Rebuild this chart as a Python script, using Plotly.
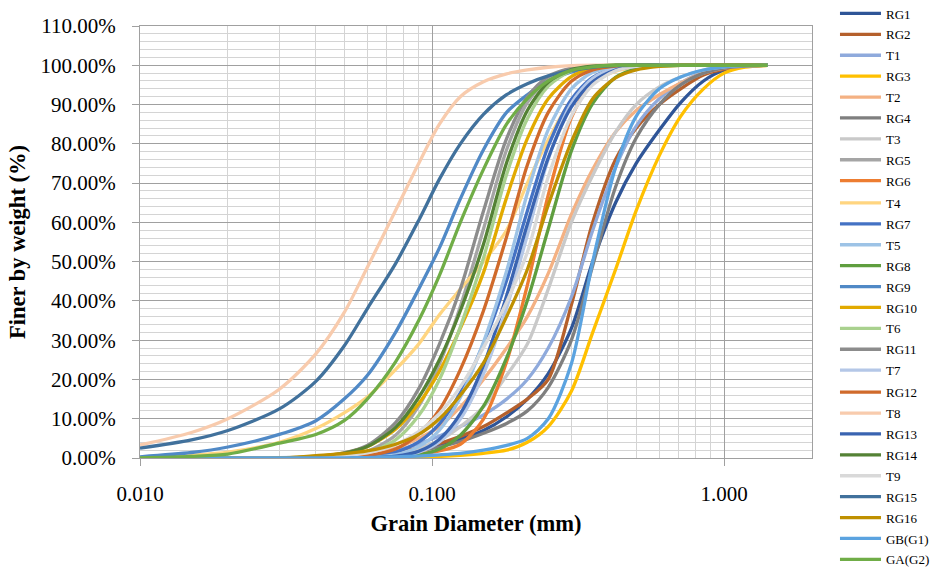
import plotly.graph_objects as go

# Grain diameters (mm) shared by all series
diam = [0.010, 0.015, 0.020, 0.030, 0.040, 0.050, 0.060, 0.075, 0.090, 0.106, 0.125, 0.150, 0.180,
        0.212, 0.250, 0.300, 0.355, 0.425, 0.500, 0.600, 0.710, 0.850, 1.000, 1.180, 1.410]

names = ["RG1", "RG2", "T1", "RG3", "T2", "RG4", "T3", "RG5", "RG6", "T4", "RG7", "T5", "RG8",
         "RG9", "RG10", "T6", "RG11", "T7", "RG12", "T8", "RG13", "RG14", "T9", "RG15", "RG16",
         "GB(G1)", "GA(G2)"]

RG1 = [0, 0, 0, 0, 0.15, 0.3, 0.5, 1, 2, 3, 4.8, 7, 10.5, 15, 21.5, 33, 50, 65, 75, 83.5, 90.5, 96, 98.8, 99.7, 100]
RG2 = [0, 0, 0, 0, 0.2, 0.4, 0.7, 1.5, 2.5, 3.7, 5.5, 8, 11.5, 15, 20, 39, 60, 76, 84, 90, 94, 97.5, 99, 99.7, 100]
T1 = [0, 0, 0, 0.1, 0.3, 0.6, 1, 2, 3.6, 5.6, 8, 11, 15, 20, 28, 41, 58, 74, 84.5, 91.5, 95.5, 98.3, 99.4, 99.9, 100]
RG3 = [0, 0, 0, 0, 0, 0, 0, 0.1, 0.2, 0.4, 0.7, 1.2, 2, 4, 8, 17, 32, 48, 63, 77, 87, 94, 98, 99.5, 100]
T2 = [0, 0, 0, 0, 0.2, 0.5, 1, 2.5, 5, 8, 13, 20, 28, 36, 47, 62, 73.5, 83, 88.5, 92.5, 95.5, 98, 99.3, 99.8, 100]
RG4 = [0, 0, 0, 0, 0.1, 0.3, 0.5, 1, 1.8, 2.8, 4.2, 6.3, 8.8, 12, 18, 30, 49, 69, 81.5, 90, 95, 98, 99.3, 99.8, 100]
T3 = [0, 0, 0, 0, 0.05, 0.15, 0.3, 1, 2.5, 4.5, 8, 13, 21, 29, 43, 60, 72, 83, 90, 94.5, 97, 98.8, 99.6, 100, 100]
RG5 = [0, 0, 0, 0, 0.1, 0.6, 1.7, 5.8, 13.2, 24, 38.6, 58.3, 78.5, 90.5, 96.6, 99.2, 99.8, 100, 100, 100, 100, 100, 100, 100, 100]
RG6 = [0, 0, 0, 0, 0.05, 0.12, 0.2, 0.5, 1, 1.8, 3.5, 9.9, 24.5, 44, 67, 86.7, 95.8, 99.2, 99.9, 100, 100, 100, 100, 100, 100]
T4 = [0, 0.7, 1.5, 4, 7.5, 11.5, 15.5, 22.5, 29, 36.5, 43, 50, 58, 70, 81, 91, 95.5, 98.5, 99.5, 100, 100, 100, 100, 100, 100]
RG7 = [0, 0, 0, 0, 0.05, 0.2, 0.4, 1.5, 4.1, 8.7, 16.6, 29.1, 45.2, 62.9, 79.4, 91.3, 96.9, 99.2, 99.8, 100, 100, 100, 100, 100, 100]
T5 = [0, 0, 0, 0, 0.02, 0.1, 0.2, 0.8, 2.9, 7.1, 15.4, 29.5, 47.6, 67.4, 83.6, 94, 98.2, 99.6, 100, 100, 100, 100, 100, 100, 100]
RG8 = [0, 0, 0, 0, 0, 0.05, 0.1, 0.3, 0.8, 2.3, 5.8, 13.2, 25.5, 40.1, 58.3, 78.2, 90.3, 96.9, 99.1, 99.8, 100, 100, 100, 100, 100]
RG9 = [0.3, 1.4, 2.8, 6, 9.5, 15, 21, 32, 43, 53.5, 66, 78.5, 88, 92.5, 96, 98.3, 99.3, 99.8, 100, 100, 100, 100, 100, 100, 100]
RG10 = [0, 0, 0, 0.05, 0.4, 1.3, 2.9, 7.3, 13.8, 22.1, 33, 47.2, 66.3, 81.3, 91.5, 97.1, 99.2, 99.8, 100, 100, 100, 100, 100, 100, 100]
T6 = [0, 0, 0, 0, 0.1, 0.5, 1.3, 4.6, 10.8, 20, 33.4, 50.9, 72.2, 86.4, 94.7, 98.6, 99.7, 100, 100, 100, 100, 100, 100, 100, 100]
RG11 = [0, 0, 0, 0, 0.3, 1.3, 3.2, 9, 17.6, 29, 43, 62.9, 81.3, 91.9, 97.2, 99.3, 99.9, 100, 100, 100, 100, 100, 100, 100, 100]
T7 = [0, 0, 0, 0, 0, 0.02, 0.05, 0.4, 1.5, 4.1, 9.9, 21.4, 38.2, 56.8, 76.1, 90.3, 96.7, 99.2, 99.8, 100, 100, 100, 100, 100, 100]
RG12 = [0, 0, 0, 0, 0.03, 0.2, 0.6, 2.3, 6.1, 12.3, 22.5, 37.5, 56.3, 74.6, 88, 95.9, 98.8, 99.8, 100, 100, 100, 100, 100, 100, 100]
T8 = [3.3, 6.5, 10, 17.5, 26.5, 37, 48.5, 63, 75, 85, 92, 95.8, 97.8, 98.8, 99.5, 99.9, 100, 100, 100, 100, 100, 100, 100, 100, 100]
RG13 = [0, 0, 0, 0, 0, 0.02, 0.06, 0.45, 1.7, 4.8, 11.3, 23.6, 41.3, 59.5, 76.4, 89.4, 95.8, 98.8, 99.7, 100, 100, 100, 100, 100, 100]
RG14 = [0, 0, 0, 0, 0.3, 1.2, 2.9, 7.8, 15.4, 25, 37.5, 54.4, 75.2, 88.5, 95.7, 98.9, 99.8, 100, 100, 100, 100, 100, 100, 100, 100]
T9 = [0, 0, 0, 0.03, 0.15, 0.6, 1.3, 3.4, 6.7, 11.3, 18.1, 28.1, 39.7, 52.4, 71.6, 87.1, 95, 98.6, 99.7, 100, 100, 100, 100, 100, 100]
RG15 = [2.5, 4.6, 7, 12.5, 19.5, 28.5, 38, 49.5, 60.5, 71, 80, 87.5, 92.5, 95.3, 97.3, 98.7, 99.5, 99.9, 100, 100, 100, 100, 100, 100, 100]
RG16 = [0, 0, 0, 0, 0.6, 1.1, 1.8, 3.5, 6, 10, 16, 24.2, 36, 48, 64.4, 80.5, 91.5, 96.8, 98.8, 99.7, 100, 100, 100, 100, 100]
GB_G1 = [0, 0, 0, 0, 0, 0.05, 0.1, 0.3, 0.5, 0.8, 1.2, 2, 3.2, 5, 10, 24, 50, 74, 87, 94, 97, 98.8, 99.6, 99.9, 100]
GA_G2 = [0, 0.4, 1, 3.8, 6, 9.5, 15, 24.5, 35, 46.5, 60, 73.5, 85, 91.5, 96, 98.7, 99.6, 100, 100, 100, 100, 100, 100, 100, 100]

series = [RG1, RG2, T1, RG3, T2, RG4, T3, RG5, RG6, T4, RG7, T5, RG8, RG9, RG10, T6, RG11, T7,
          RG12, T8, RG13, RG14, T9, RG15, RG16, GB_G1, GA_G2]

colors = ["#2F5597", "#B5602C", "#8FAADC", "#FFC000", "#F4B183", "#7F7F7F", "#C9C9C9", "#A5A5A5",
          "#ED7D31", "#FFD580", "#4472C4", "#9DC3E6", "#5F9E3F", "#5089C6", "#E2AA00", "#A9D18E",
          "#8C8C8C", "#B4C7E7", "#D06A2B", "#F8CBAD", "#3A64B1", "#548235", "#D9D9D9", "#41719C",
          "#BF9000", "#5BA3E0", "#70AD47"]

xminor = [0.02, 0.03, 0.04, 0.05, 0.06, 0.07, 0.08, 0.09,
          0.2, 0.3, 0.4, 0.5, 0.6, 0.7, 0.8, 0.9]

serif = "Liberation Serif, DejaVu Serif, serif"
legend_ids = ["legend", "legend2", "legend3"]

fig = go.Figure()
for i, (nm, vals, col) in enumerate(zip(names, series, colors)):
    fig.add_trace(go.Scatter(
        x=diam, y=[v / 100 for v in vals], name=nm, mode="lines",
        line=dict(color=col, width=3.3, shape="spline", smoothing=0.8),
        legendgroup=nm, legend=legend_ids[i // 9],
    ))

leg_common = dict(x=1.0342, xanchor="left", yanchor="top", itemwidth=41,
                  font=dict(family=serif, size=13, color="#000000"),
                  tracegroupgap=1, bgcolor="rgba(0,0,0,0)")

fig.update_layout(
    width=930, height=570,
    margin=dict(l=140, r=118, t=26, b=112, autoexpand=False),
    paper_bgcolor="white", plot_bgcolor="white",
    font=dict(family=serif, color="#000000"),
    showlegend=True,
    legend=dict(y=1.0637, **leg_common),
    legend2=dict(y=0.625, **leg_common),
    legend3=dict(y=0.187, **leg_common),
    xaxis=dict(
        type="log", range=[-2, 0.30103],
        tickmode="array", tickvals=[0.01, 0.1, 1], ticktext=["0.010", "0.100", "1.000"],
        ticks="outside", ticklen=7, tickcolor="#A0A0A0", tickwidth=1.3,
        showgrid=True, gridcolor="#A0A0A0", gridwidth=1.3,
        minor=dict(tickmode="array", tickvals=xminor, showgrid=True,
                   gridcolor="#D4D4D4", gridwidth=1.3, ticks=""),
        showline=True, linecolor="#A0A0A0", linewidth=1.3, mirror=True,
        tickfont=dict(family=serif, size=21),
        ticklabelstandoff=10,
        title=dict(text="<b>Grain Diameter (mm)</b>", font=dict(family=serif, size=22.5), standoff=9),
        zeroline=False,
    ),
    yaxis=dict(
        range=[0, 1.1], tickmode="linear", tick0=0, dtick=0.1, tickformat=".2%",
        ticks="outside", ticklen=7, tickcolor="#A0A0A0", tickwidth=1.3,
        showgrid=True, gridcolor="#A0A0A0", gridwidth=1.3,
        minor=dict(dtick=0.02, showgrid=True, gridcolor="#D4D4D4", gridwidth=1.3, ticks=""),
        showline=True, linecolor="#A0A0A0", linewidth=1.3, mirror=True,
        tickfont=dict(family=serif, size=21),
        ticklabelstandoff=12,
        title=dict(text="<b>Finer by weight (%)</b>", font=dict(family=serif, size=22.5), standoff=8),
        zeroline=False,
    ),
)

fig.write_html("out.html")
